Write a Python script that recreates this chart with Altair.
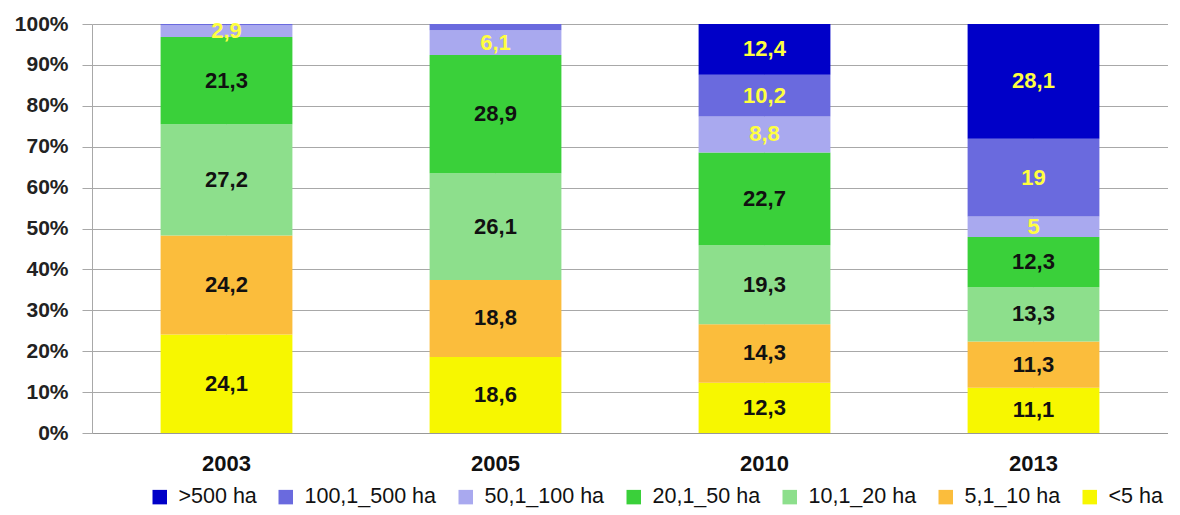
import altair as alt
import pandas as pd

years = ["2003", "2005", "2010", "2013"]
# stacking order: bottom to top
categories = ["<5 ha", "5,1_10 ha", "10,1_20 ha", "20,1_50 ha", "50,1_100 ha", "100,1_500 ha", ">500 ha"]
colors = ["#f7f700", "#fbbd3c", "#8ddf8c", "#3ad03a", "#a9a9ef", "#6a6ade", "#0000c8"]
text_colors = ["#111111", "#111111", "#111111", "#111111", "#ffff40", "#ffff40", "#ffff40"]

v_lt5 = [24.1, 18.6, 12.3, 11.1]
v_5_10 = [24.2, 18.8, 14.3, 11.3]
v_10_20 = [27.2, 26.1, 19.3, 13.3]
v_20_50 = [21.3, 28.9, 22.7, 12.3]
v_50_100 = [2.9, 6.1, 8.8, 5]
v_100_500 = [0.3, 1.5, 10.2, 19]
v_gt500 = [0, 0, 12.4, 28.1]
series = [v_lt5, v_5_10, v_10_20, v_20_50, v_50_100, v_100_500, v_gt500]

rows = []
for ci, (cat, vals) in enumerate(zip(categories, series)):
    for yi, yr in enumerate(years):
        rows.append({"year": yr, "cat": cat, "idx": ci, "value": vals[yi],
                     "tcolor": text_colors[ci]})
df = pd.DataFrame(rows)

legend_order = categories[::-1]
legend_colors = colors[::-1]

font = "Liberation Sans"

base = alt.Chart(df).transform_stack(
    stack="value", groupby=["year"], as_=["y0", "y1"],
    sort=[alt.SortField("idx", order="ascending")], offset="normalize"
).transform_calculate(
    mid="(datum.y0 + datum.y1) / 2",
    label="replace(toString(datum.value), '.', ',')"
)

x = alt.X("year:N", sort=years, title=None,
          scale=alt.Scale(paddingInner=0.51, paddingOuter=0.255),
          axis=alt.Axis(labelAngle=0, labelFont=font, labelFontSize=22,
                        labelFontWeight="bold", labelColor="#111",
                        labelPadding=20, ticks=False, domainColor="#999"))

bars = base.mark_bar(stroke=None).encode(
    x=x,
    y=alt.Y("y0:Q", title=None,
            scale=alt.Scale(domain=[0, 1], nice=False),
            axis=alt.Axis(format=".0%", values=[i / 10 for i in range(11)],
                          labelFont=font, labelFontSize=21, labelFontWeight="bold",
                          labelColor="#222", gridColor="#a8a8a8", tickColor="#a8a8a8",
                          tickSize=10, labelPadding=14, domainColor="#a8a8a8")),
    y2="y1:Q",
    color=alt.Color("cat:N", sort=legend_order,
                    scale=alt.Scale(domain=legend_order, range=legend_colors),
                    legend=alt.Legend(title=None, orient="none", direction="horizontal",
                                      legendX=57, legendY=462,
                                      symbolType="square", symbolSize=210,
                                      symbolStrokeWidth=0, labelFont=font,
                                      labelFontSize=21.5, labelColor="#111",
                                      columnPadding=18, labelOffset=8,
                                      padding=0)),
)

labels = base.transform_filter("datum.value >= 2").mark_text(
    font=font, fontSize=22, fontWeight="bold"
).encode(
    x=alt.X("year:N", sort=years),
    y=alt.Y("mid:Q"),
    text="label:N",
    color=alt.Color("tcolor:N", scale=None),
)

chart = alt.layer(bars, labels).properties(
    width=1076, height=409,
    padding={"top": 5, "left": 6, "right": 0, "bottom": 0}
).configure_view(stroke=None).configure_axis(grid=True)

chart.save("out.html", embed_options={"renderer": "svg", "actions": False})
